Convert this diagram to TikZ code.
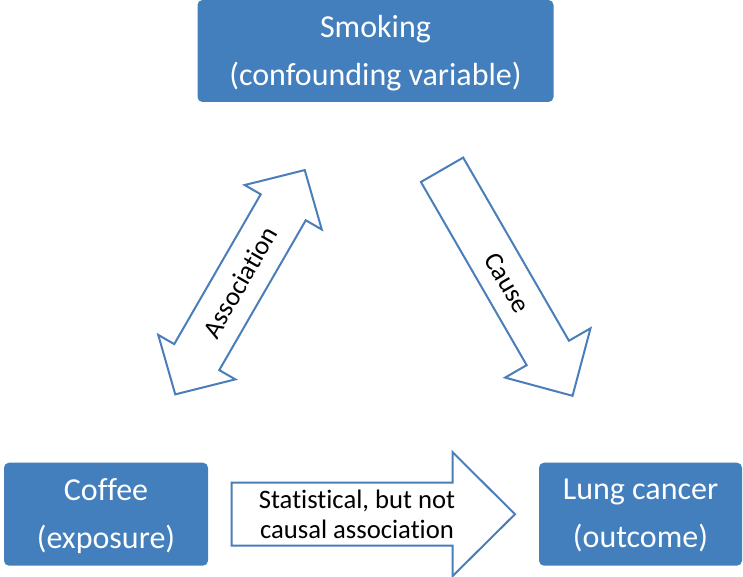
\documentclass[tikz,border=0pt]{standalone}
\usepackage{fontspec}
\setmainfont{Carlito}[Ligatures={NoCommon}]
\definecolor{boxblue}{RGB}{67,126,189}
\definecolor{arrowblue}{RGB}{74,126,187}
\begin{document}
\begin{tikzpicture}[x=0.75pt, y=-0.75pt,
    varbox/.style={fill=boxblue, rounded corners=3.75pt, text=white, align=center,
      font=\fontsize{24}{36}\selectfont, inner sep=0pt, text depth=1pt},
    blockarrow/.style={draw=arrowblue, line width=1.5pt, fill=white, line join=miter},
    arrowtext/.style={align=center, font=\fontsize{20}{22}\selectfont, inner sep=0pt}]
  \useasboundingbox (0,0) rectangle (743,577);
  % variables
  \node[varbox, minimum width=267pt, minimum height=76.5pt] (smoking) at (375.5,51) {Smoking\\(confounding variable)};
  \node[varbox, minimum width=153pt, minimum height=77.25pt] (coffee) at (106,514.2) {Coffee\\(exposure)};
  \node[varbox, minimum width=152.25pt, minimum height=77.25pt] (cancer) at (640.5,514.2) {Lung cancer\\(outcome)};
  % association (double arrow)
  \begin{scope}[shift={(240,282.2)}, rotate=60]
    \draw[blockarrow] (129.5,0) -- (86.5,44.5) -- (86.5,26) -- (-86.5,26) -- (-86.5,44.5) -- (-129.5,0)
      -- (-86.5,-44.5) -- (-86.5,-26) -- (86.5,-26) -- (86.5,-44.5) -- cycle;
  \end{scope}
  \node[arrowtext, rotate=60] (assoc) at (240,282.2) {Association};
  % cause
  \begin{scope}[shift={(507.3,282.8)}, rotate=-60]
    \draw[blockarrow] (-130.5,-24.4) -- (81,-24.4) -- (81,-49.3) -- (130.5,0) -- (81,49.3) -- (81,24.4)
      -- (-130.5,24.4) -- cycle;
  \end{scope}
  \node[arrowtext, rotate=-60] (cause) at (507.3,282.8) {Cause};
  % statistical association
  \draw[blockarrow] (231.7,482.7) -- (452.7,482.7) -- (452.7,452.3) -- (515,514.2) -- (452.7,576)
    -- (452.7,545.7) -- (231.7,545.7) -- cycle;
  \node[arrowtext] (stat) at (357,514.2) {Statistical, but not\\causal association};
\end{tikzpicture}
\end{document}
